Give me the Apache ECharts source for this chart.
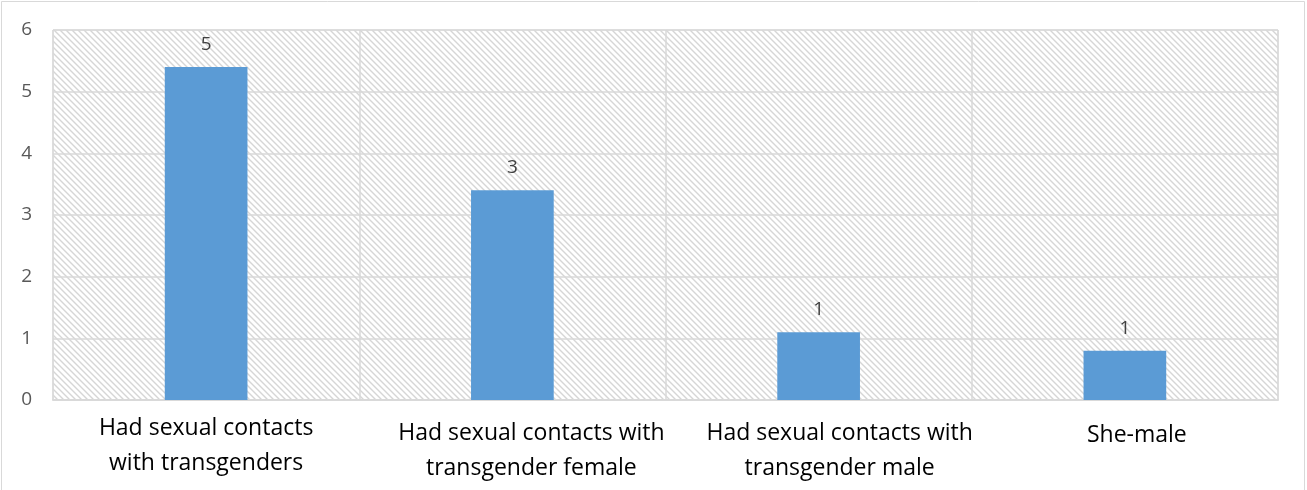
<!DOCTYPE html>
<html>
<head>
<meta charset="utf-8">
<style>
  html, body { margin: 0; padding: 0; background: #ffffff; }
  #chart { width: 1307px; height: 490px; }
</style>
<script src="https://cdn.jsdelivr.net/npm/echarts@6/dist/echarts.min.js"></script>
</head>
<body>
<div id="chart"></div>
<script>
// Category names (line breaks as they wrap under each column)
const categories = [
  'Had sexual contacts\nwith transgenders',
  'Had sexual contacts with\ntransgender female',
  'Had sexual contacts with\ntransgender male',
  'She-male'
];
// Bar heights
const counts = [5.4, 3.4, 1.1, 0.8];
// Value axis ticks
const yTicks = [0, 1, 2, 3, 4, 5, 6];

// Diagonal hatch fill for the plot area
function hatchPattern() {
  const size = 6;
  const c = document.createElement('canvas');
  c.width = size; c.height = size;
  const g = c.getContext('2d');
  g.fillStyle = '#ffffff';
  g.fillRect(0, 0, size, size);
  g.strokeStyle = '#d6d6d6';
  g.lineWidth = 1.4;
  g.beginPath();
  for (let k = -size; k <= size * 2; k += size) {
    g.moveTo(k - 1, -1);
    g.lineTo(k + size + 1, size + 1);
  }
  g.stroke();
  return { image: c, repeat: 'repeat' };
}

// Label box offsets: [top, right, bottom, left]
const labelPadding = [
  [0, 0, 0, 0],
  [5, 0, 0, 38],
  [5, 0, 0, 42],
  [7, 0, 0, 24]
];
const categoryData = categories.map((name, i) => ({
  value: name,
  textStyle: { padding: labelPadding[i] }
}));

const chart = echarts.init(document.getElementById('chart'), null, { renderer: 'canvas' });

chart.setOption({
  animation: false,
  backgroundColor: '#ffffff',
  textStyle: { fontFamily: '"Open Sans", "Noto Sans", sans-serif' },
  graphic: [{
    type: 'rect',
    silent: true,
    shape: { x: 1.5, y: 1.5, width: 1303, height: 600 },
    style: { fill: 'none', stroke: '#d9d9d9', lineWidth: 1 },
    z: -1
  }],
  grid: {
    left: 53, right: 29, top: 30, bottom: 90,
    show: true,
    backgroundColor: hatchPattern(),
    borderColor: '#d9d9d9',
    borderWidth: 1
  },
  xAxis: {
    type: 'category',
    data: categoryData,
    axisLine: { show: true, lineStyle: { color: '#d9d9d9', width: 2 } },
    axisTick: { show: false },
    splitLine: { show: true, lineStyle: { color: '#d9d9d9', width: 1.5 } },
    axisLabel: {
      interval: 0,
      color: '#000000',
      fontSize: 23,
      lineHeight: 35,
      margin: 11
    }
  },
  yAxis: {
    type: 'value',
    min: yTicks[0],
    max: yTicks[yTicks.length - 1],
    interval: 1,
    axisLine: { show: false },
    axisTick: { show: false },
    splitLine: { show: true, lineStyle: { color: '#d9d9d9', width: 1.5 } },
    axisLabel: {
      color: '#595959',
      fontSize: 19,
      margin: 21
    }
  },
  series: [{
    type: 'bar',
    data: counts,
    barWidth: '27%',
    itemStyle: { color: '#5b9bd5' },
    label: {
      show: true,
      position: 'top',
      distance: 13,
      color: '#404040',
      fontSize: 19,
      formatter: p => String(Math.round(p.value))
    }
  }]
});
</script>
</body>
</html>
